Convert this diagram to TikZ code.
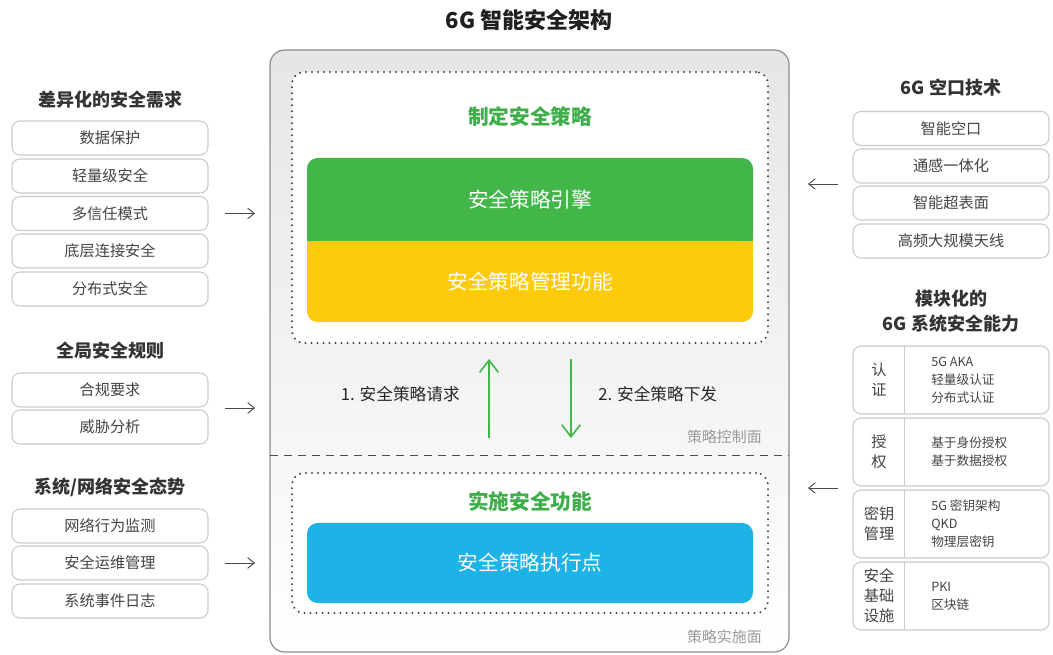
\documentclass[tikz,border=0pt]{standalone}
\usepackage{fontspec}
\setmainfont{Noto Sans CJK SC}
\usetikzlibrary{arrows.meta}
\definecolor{cgreen}{HTML}{43B649}
\definecolor{tgreen}{HTML}{3DAE49}
\definecolor{cyellow}{HTML}{FECB0C}
\definecolor{cblue}{HTML}{1DB3E7}
\definecolor{boxline}{HTML}{CACACA}
\definecolor{mainline}{HTML}{8C8C8C}
\definecolor{ctext}{HTML}{444444}
\definecolor{chead}{HTML}{333333}
\definecolor{cgray}{HTML}{9A9A9A}
\definecolor{cdot}{HTML}{4A4A4A}
\begin{document}
\begin{tikzpicture}[x=0.75pt,y=-0.75pt,
  lbox/.style={draw=boxline, line width=0.8pt, rounded corners=6pt, fill=white,
    minimum width=147pt, minimum height=25.5pt, inner sep=0pt,
    font=\fontsize{11.4}{13}\selectfont, text=ctext},
  modbox/.style={draw=boxline, line width=0.8pt, rounded corners=6pt, fill=white,
    minimum width=147pt, minimum height=51pt, inner sep=0pt},
  modlab/.style={font=\fontsize{11.4}{15}\selectfont, text=ctext, align=center, inner sep=0pt},
  modtxt/.style={font=\fontsize{9.5}{13.5}\selectfont, text=ctext, align=left, inner sep=0pt, anchor=west},
  head/.style={font=\fontsize{13.5}{19}\selectfont\bfseries, text=chead, align=center, inner sep=0pt},
  dotbox/.style={draw=cdot, line width=1.7pt, dash pattern=on 0pt off 4.5pt, line cap=round,
    rounded corners=9pt, fill=white, minimum width=357pt, inner sep=0pt},
  whitetxt/.style={font=\fontsize{15.5}{18}\selectfont, text=white, inner sep=0pt},
  greenhead/.style={font=\fontsize{15.5}{18}\selectfont\bfseries, text=tgreen, inner sep=0pt},
  planelab/.style={font=\fontsize{11.2}{13}\selectfont, text=cgray, anchor=east, inner sep=0pt},
  flowlab/.style={font=\fontsize{12.5}{15}\selectfont, text=black!85, inner sep=0pt},
  garrow/.style={draw=cdot, line width=0.7pt, -{Straight Barb[length=5pt,width=8pt,line width=0.7pt]}},
  flowarrow/.style={draw=cgreen, line width=1.2pt, -{Straight Barb[length=9pt,width=14pt,line width=1.2pt]}}
]
\useasboundingbox (0,0) rectangle (1053,655);

% title
\node[font=\fontsize{16.5}{20}\selectfont\bfseries, text=black!88, inner sep=0pt] (title) at (529,20) {6G 智能安全架构};

% main box
\node[draw=mainline, line width=0.9pt, rounded corners=11pt, top color=black!10, bottom color=white,
  minimum width=389.25pt, minimum height=451.5pt, inner sep=0pt] (main) at (529.5,351) {};
\draw[draw=black!70, line width=0.6pt, dash pattern=on 6pt off 4.5pt] (270,455) coordinate (dl) -- (789,455) coordinate (dr);

% top dotted box
\node[dotbox, minimum height=203.25pt] (ctrl) at (530,207.5) {};
\node[greenhead] (ctrlhead) at (530,117) {制定安全策略};
\node[fill=cgreen, rounded corners=8pt, minimum width=334.5pt, minimum height=62.25pt, inner sep=0pt] (engshape) at (530,199.5) {};
\fill[cgreen] (307,215) rectangle (753,241);
\node[fill=cyellow, rounded corners=8pt, minimum width=334.5pt, minimum height=60.75pt, inner sep=0pt] (mgmtshape) at (530,281.5) {};
\fill[cyellow] (307,241) rectangle (753,270);
\node[whitetxt] (engine) at (530,199.5) {安全策略引擎};
\node[whitetxt] (mgmt) at (530,281.5) {安全策略管理功能};

% arrows between planes
\coordinate (upS) at (489,438);
\coordinate (upE) at (489,359);
\coordinate (dnS) at (571,359);
\coordinate (dnE) at (571,438);
\draw[flowarrow] (upS) -- (upE);
\draw[flowarrow] (dnS) -- (dnE);
\node[flowlab, anchor=east] (req) at (460,394) {1. 安全策略请求};
\node[flowlab, anchor=west] (iss) at (598,394) {2. 安全策略下发};
\node[planelab] (ctrlplane) at (762,437) {策略控制面};

% bottom dotted box
\node[dotbox, minimum height=105pt] (enf) at (530,543) {};
\node[greenhead] (enfhead) at (530,502) {实施安全功能};
\node[fill=cblue, rounded corners=8pt, minimum width=334.5pt, minimum height=60pt, inner sep=0pt, whitetxt] (pep) at (530,563) {安全策略执行点};
\node[planelab] (enfplane) at (762,637) {策略实施面};

% left column
\node[head] (h1) at (110,100) {差异化的安全需求};
\node[lbox] (l1) at (110,138) {数据保护};
\node[lbox] (l2) at (110,176) {轻量级安全};
\node[lbox] (l3) at (110,213.5) {多信任模式};
\node[lbox] (l4) at (110,251) {底层连接安全};
\node[lbox] (l5) at (110,289) {分布式安全};
\node[head] (h2) at (110,351) {全局安全规则};
\node[lbox] (g1) at (110,390) {合规要求};
\node[lbox] (g2) at (110,427) {威胁分析};
\node[head] (h3) at (110,487) {系统/网络安全态势};
\node[lbox] (s1) at (110,526) {网络行为监测};
\node[lbox] (s2) at (110,563) {安全运维管理};
\node[lbox] (s3) at (110,601) {系统事件日志};

\coordinate (a1s) at (225,213.5); \coordinate (a1e) at (255,213.5);
\coordinate (a2s) at (225,408); \coordinate (a2e) at (255,408);
\coordinate (a3s) at (225,563); \coordinate (a3e) at (255,563);
\draw[garrow] (a1s) -- (a1e);
\draw[garrow] (a2s) -- (a2e);
\draw[garrow] (a3s) -- (a3e);

% right column
\node[head] (h4) at (951,88) {6G 空口技术};
\node[lbox] (r1) at (951,128.5) {智能空口};
\node[lbox] (r2) at (951,166) {通感一体化};
\node[lbox] (r3) at (951,203) {智能超表面};
\node[lbox] (r4) at (951,241) {高频大规模天线};
\node[head] (h5) at (951,311) {模块化的\\6G 系统安全能力};

\node[modbox] (m1) at (951,380) {};
\node[modbox] (m2) at (951,452) {};
\node[modbox] (m3) at (951,524) {};
\node[modbox] (m4) at (951,596) {};
\foreach \m in {m1,m2,m3,m4}{
  \draw[draw=boxline, line width=0.8pt] (\m.north west) ++(52,0) -- ++(0,68);
}
\node[modlab] (m1l) at (879,380) {认\\证};
\node[modtxt] (m1t) at (931,380) {5G AKA\\轻量级认证\\分布式认证};
\node[modlab] (m2l) at (879,452) {授\\权};
\node[modtxt] (m2t) at (931,452) {基于身份授权\\基于数据授权};
\node[modlab] (m3l) at (879,524) {密钥\\管理};
\node[modtxt] (m3t) at (931,524) {5G 密钥架构\\QKD\\物理层密钥};
\node[modlab] (m4l) at (879,596) {安全\\基础\\设施};
\node[modtxt] (m4t) at (931,596) {PKI\\区块链};

\coordinate (b1s) at (838,184); \coordinate (b1e) at (808,184);
\coordinate (b2s) at (838,488); \coordinate (b2e) at (808,488);
\draw[garrow] (b1s) -- (b1e);
\draw[garrow] (b2s) -- (b2e);
\end{tikzpicture}
\end{document}
